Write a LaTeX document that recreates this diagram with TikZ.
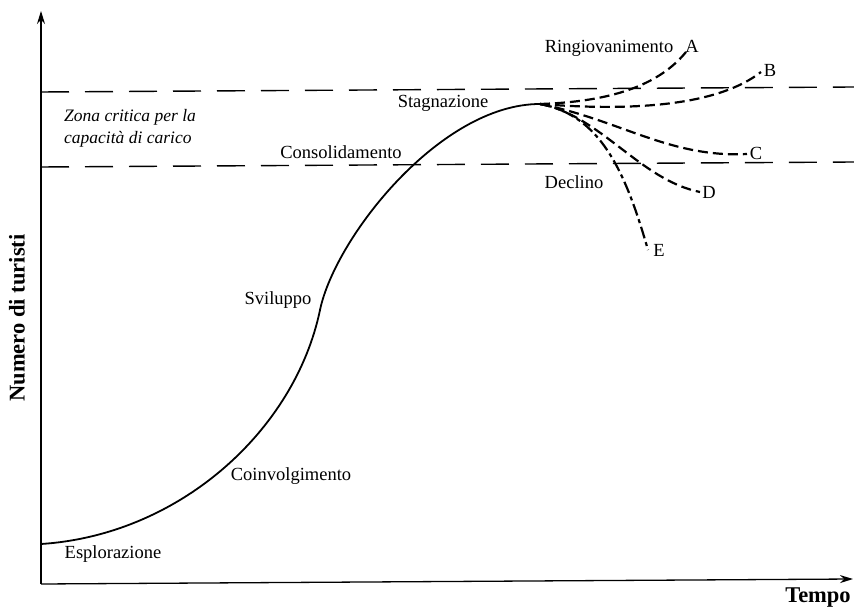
\documentclass[tikz,border=0pt]{standalone}
\usepackage{fontspec}
\setmainfont{Liberation Serif}
\usetikzlibrary{arrows.meta}
\begin{document}
\begin{tikzpicture}[x=1pt,y=-1pt,
  lbl/.style={inner sep=0pt,font=\fontsize{18.5}{21}\selectfont},
  axlbl/.style={inner sep=0pt,font=\fontsize{22.5}{24}\selectfont\bfseries},
  axisline/.style={line width=1.3pt,-{Stealth[length=13pt,width=8pt]}},
  zone/.style={line width=1.4pt,dash pattern=on 28pt off 16pt},
  branch/.style={line width=2.2pt,dash pattern=on 10pt off 5pt},
  branchE/.style={line width=2.2pt,dash pattern=on 12pt off 4pt on 4pt off 4pt},
  maincurve/.style={line width=1.8pt}]
\useasboundingbox (0,0) rectangle (854,609);
\fill[white] (0,0) rectangle (854,609);
% axes
\coordinate (O) at (41,584);
\coordinate (ytop) at (41,11);
\coordinate (xend) at (853,579);
\draw[axisline] (O) -- (ytop);
\draw[axisline] (O) -- (xend);
% zone lines
\coordinate (z1a) at (41,92);
\coordinate (z1b) at (854,87);
\coordinate (z2a) at (41,167);
\coordinate (z2b) at (854,162);
\draw[zone] (z1a) -- (z1b);
\draw[zone] (z2a) -- (z2b);
% main curve
\coordinate (start) at (41,544);
\coordinate (infl) at (320,310);
\coordinate (peak) at (540,104);
\draw[maincurve] (start) .. controls (180,535) and (295,430) .. (infl)
  .. controls (335,238) and (440,104) .. (peak);
% branches
\coordinate (eA) at (686,52);
\coordinate (eB) at (761,72);
\coordinate (eC) at (747,154);
\coordinate (eD) at (700,192);
\coordinate (eE) at (648,250);
\draw[branch] (peak) .. controls (600,102) and (655,90) .. (eA);
\draw[branch] (peak) .. controls (640,112) and (720,104) .. (eB);
\draw[branch] (peak) .. controls (620,120) and (670,158) .. (eC);
\draw[branch] (peak) .. controls (600,115) and (640,180) .. (eD);
\draw[branchE] (peak) .. controls (600,115) and (625,170) .. (eE);
% labels
\node[lbl] (ring) at (609,48) {Ringiovanimento};
\node[lbl] (lA) at (692,46) {A};
\node[lbl] (lB) at (770,70) {B};
\node[lbl] (lC) at (756,153) {C};
\node[lbl] (lD) at (709,192) {D};
\node[lbl] (lE) at (659,250) {E};
\node[lbl] (decl) at (574,182) {Declino};
\node[lbl] (stag) at (443,103) {Stagnazione};
\node[lbl] (cons) at (341,152) {Consolidamento};
\node[lbl] (svil) at (278,300) {Sviluppo};
\node[lbl] (coin) at (291,476) {Coinvolgimento};
\node[lbl] (espl) at (113,554) {Esplorazione};
\node[lbl,anchor=west,font=\fontsize{17.5}{21}\selectfont\itshape] (zona1) at (64,117) {Zona critica per la};
\node[lbl,anchor=west,font=\fontsize{17.5}{21}\selectfont\itshape] (zona2) at (64,139) {capacità di carico};
\node[axlbl,rotate=90] (ylab) at (17,318) {Numero di turisti};
\node[axlbl] (xlab) at (818,598) {Tempo};
\end{tikzpicture}
\end{document}
